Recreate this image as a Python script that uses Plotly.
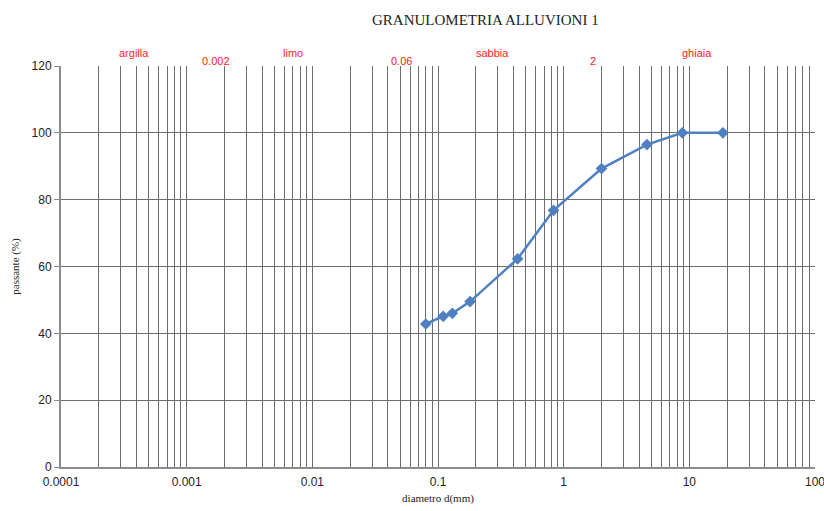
import math
import plotly.graph_objects as go

# Grain-size distribution data
diametro_mm = [0.08, 0.11, 0.13, 0.18, 0.43, 0.83, 2.0, 4.6, 8.8, 18.5]
passante_pct = [42.8, 45.1, 46.0, 49.5, 62.3, 76.8, 89.3, 96.5, 100.0, 100.0]

# Axis tick labels
x_tick_vals = [0.0001, 0.001, 0.01, 0.1, 1, 10, 100]
x_tick_text = ["0.0001", "0.001", "0.01", "0.1", "1", "10", "100"]
y_tick_vals = [0, 20, 40, 60, 80, 100, 120]

# Soil class names and class boundaries (mm)
classi = ["argilla", "limo", "sabbia", "ghiaia"]
classi_x = [0.00038, 0.007, 0.27, 11.5]
limiti = [0.002, 0.06, 2]
limiti_text = ["0.002", "0.06", "2"]

minor_vals = [m * d for d in [0.0001, 0.001, 0.01, 0.1, 1, 10] for m in range(2, 10)]

fig = go.Figure()
fig.add_trace(go.Scatter(
    x=diametro_mm, y=passante_pct, mode="lines+markers",
    line=dict(color="#4f81c2", width=2.5),
    marker=dict(symbol="diamond", size=9, color="#4f81c2"),
    showlegend=False,
))

grid_col = "#6e6e6e"
fig.update_xaxes(
    type="log", range=[-4, 2], automargin=False,
    tickvals=x_tick_vals, ticktext=x_tick_text, ticklabeloverflow="allow",
    ticklabelstandoff=3,
    showgrid=True, gridcolor=grid_col, gridwidth=1,
    minor=dict(tickvals=minor_vals, showgrid=True, gridcolor=grid_col, gridwidth=1, ticks=""),
    showline=True, linecolor="#8c8c8c", linewidth=2, mirror=False,
    ticks="", zeroline=False,
    tickfont=dict(family="Liberation Sans, Arial", size=12, color="#222"),
    title=dict(text="diametro d(mm)", font=dict(family="Liberation Serif, Times New Roman", size=11, color="#222"), standoff=6),
)
fig.update_yaxes(
    range=[0, 120], tickvals=y_tick_vals, automargin=False,
    showgrid=True, gridcolor=grid_col, gridwidth=1,
    showline=True, linecolor="#8c8c8c", linewidth=2,
    ticks="outside", ticklen=5, tickcolor="#8c8c8c",
    zeroline=False,
    tickfont=dict(family="Liberation Sans, Arial", size=12, color="#222"),
    title=dict(text="passante (%)", font=dict(family="Liberation Serif, Times New Roman", size=11, color="#222"), standoff=10),
)

for nome, xc in zip(classi, classi_x):
    fig.add_annotation(x=math.log10(xc), y=1, xref="x", yref="paper",
                       yanchor="bottom", yshift=5, text=nome, showarrow=False,
                       font=dict(family="Liberation Sans, Arial", size=11, color="#ff1a1a"))
for lim, txt in zip(limiti, limiti_text):
    fig.add_annotation(x=math.log10(lim), y=1, xref="x", yref="paper",
                       yanchor="bottom", yshift=-3, xshift=-9, text=txt, showarrow=False,
                       font=dict(family="Liberation Sans, Arial", size=11, color="#ff1a1a"))

fig.update_layout(
    width=824, height=511,
    margin=dict(l=61, r=9, t=66, b=44),
    paper_bgcolor="white", plot_bgcolor="white",
    title=dict(text="GRANULOMETRIA ALLUVIONI 1", x=0.589, xanchor="center", y=0.962, yanchor="middle",
               font=dict(family="Liberation Serif, Times New Roman", size=15, color="#222")),
)

fig.write_html("out.html")
